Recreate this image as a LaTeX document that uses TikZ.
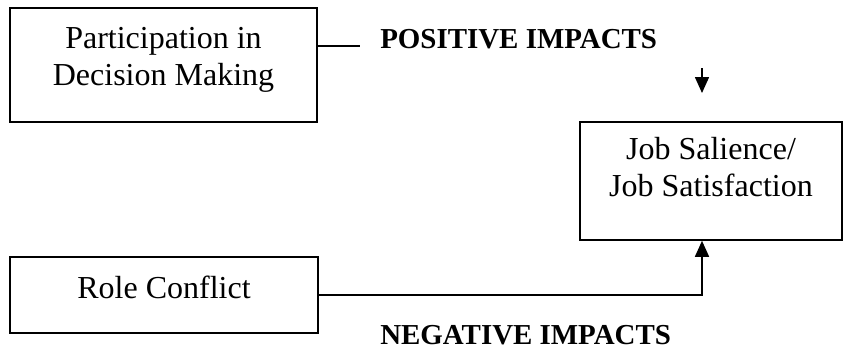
\documentclass[tikz,border=0pt]{standalone}
\usepackage{fontspec}
\setmainfont{Liberation Serif}
\usetikzlibrary{arrows.meta, positioning}

\begin{document}
\begin{tikzpicture}[x=0.75pt, y=-0.75pt,
  box/.style={draw, line width=1.2pt, align=center, inner sep=0pt,
    font=\fontsize{24}{28}\selectfont},
  impact/.style={anchor=base west, inner sep=0pt,
    font=\fontsize{21.7}{26}\selectfont\bfseries},
  link/.style={line width=1.2pt},
  arr/.style={link, -{Triangle[length=12pt, width=10.5pt]}}]
  \useasboundingbox (0,0) rectangle (843,350);
  % boxes
  \node[box, minimum width=230.25pt, minimum height=85.5pt, text depth=12.75pt] (pdm) at (163.5,65) {Participation in\\Decision Making};
  \node[box, minimum width=231pt, minimum height=57pt, text depth=12pt] (rc) at (164,295) {Role Conflict};
  \node[box, minimum width=196.5pt, minimum height=88.5pt, text depth=21pt] (job) at (711,181) {Job Salience/\\Job Satisfaction};
  % impact labels
  \node[impact] (pos) at (380,48) {POSITIVE IMPACTS};
  \node[impact] (neg) at (380,344) {NEGATIVE IMPACTS};
  % connectors
  \coordinate (poslink) at (360,46);
  \draw[link] (pdm.east |- poslink) -- (poslink);
  \coordinate (postop) at (702,68);
  \coordinate (postip) at (702,93);
  \draw[arr] (postop) -- (postip);
  \draw[arr] (rc.east) -| ([xshift=-6.75pt]job.south);
\end{tikzpicture}
\end{document}
